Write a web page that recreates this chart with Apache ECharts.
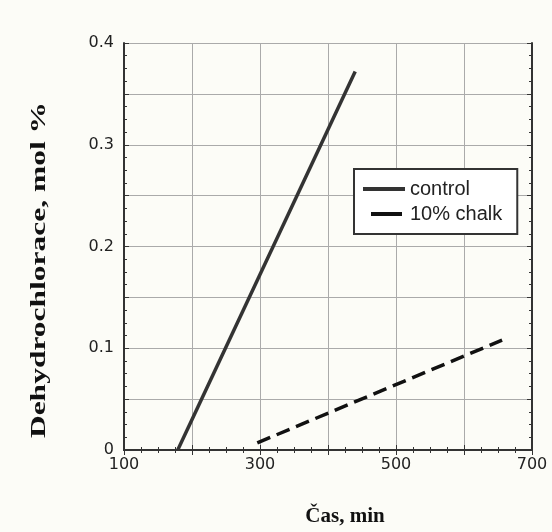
<!DOCTYPE html>
<html>
<head>
<meta charset="utf-8">
<script src="https://cdn.jsdelivr.net/npm/echarts@6/dist/echarts.min.js"></script>
<style>
	html, body { margin: 0; padding: 0; background: #fcfcf7; }
	#chart { width: 552px; height: 532px; }
</style>
</head>
<body>
<div id="chart"></div>
<script>
// data
var seriesNames = ['control', '10% chalk'];
var controlTime = [179, 440];
var controlValue = [0, 0.372];
var chalkTime = [296, 656];
var chalkValue = [0.007, 0.108];
var xTickLabels = [100, 300, 500, 700];
var yTickLabels = [0, 0.1, 0.2, 0.3, 0.4];

function pairs(xs, ys) {
	var out = [];
	for (var i = 0; i < xs.length; i++) {
		out.push([xs[i], ys[i]]);
	}
	return out;
}

function hasValue(list, v) {
	for (var i = 0; i < list.length; i++) {
		if (Math.abs(list[i] - v) < 1e-9) return true;
	}
	return false;
}

var chart = echarts.init(document.getElementById('chart'));

var tickFont = { fontFamily: 'DejaVu Sans, sans-serif', fontSize: 16, color: '#222' };
var frameLine = { show: true, lineStyle: { color: '#333', width: 2 } };
var tickLine = { inside: true, length: 5, lineStyle: { color: '#333' } };
var minorLine = { show: true, splitNumber: 4, length: 3, lineStyle: { color: '#333' } };

var option = {
	backgroundColor: '#fcfcf7',
	animation: false,
	grid: { left: 124, top: 43, right: 20, bottom: 79 },
	legend: {
		data: [
			{ name: seriesNames[0] },
			// one long dash in the sample, as in the scan
			{ name: seriesNames[1], lineStyle: { type: [0, 8, 31, 4] } }
		],
		orient: 'vertical',
		left: 354,
		top: 169,
		padding: [10, 15, 10, 7],
		itemGap: 5,
		itemWidth: 42,
		itemHeight: 14,
		// only the line sample, no marker
		itemStyle: { opacity: 0 },
		lineStyle: { width: 4 },
		backgroundColor: '#ffffff',
		borderColor: '#333',
		borderWidth: 2,
		textStyle: { fontFamily: 'Liberation Sans, Arial, sans-serif', fontSize: 20, color: '#222' }
	},
	// y-axis title, stretched along its length like in the scan
	graphic: [
		{
			type: 'text',
			x: 40,
			y: 270,
			rotation: Math.PI / 2,
			scaleX: 1.5,
			style: {
				text: 'Dehydrochlorace, mol %',
				font: 'bold 21px "Liberation Serif", "Times New Roman", serif',
				fill: '#111',
				textAlign: 'center',
				textVerticalAlign: 'middle'
			}
		}
	],
	xAxis: [
		{
			type: 'value',
			min: 100,
			max: 700,
			interval: 100,
			axisLine: frameLine,
			axisTick: tickLine,
			minorTick: minorLine,
			splitLine: { show: true, lineStyle: { color: '#aaa', width: 1 } },
			axisLabel: Object.assign({
				margin: 7,
				formatter: function (v) { return hasValue(xTickLabels, v) ? String(v) : ''; }
			}, tickFont),
			name: 'Čas, min',
			nameLocation: 'middle',
			nameGap: 56,
			nameTextStyle: { fontFamily: 'Liberation Serif, Times New Roman, serif', fontWeight: 'bold', fontSize: 21, color: '#111', padding: [0, 0, 0, 34] }
		},
		{
			type: 'value',
			position: 'top',
			min: 100,
			max: 700,
			interval: 100,
			axisLine: frameLine,
			axisTick: tickLine,
			minorTick: minorLine,
			splitLine: { show: false },
			axisLabel: { show: false }
		}
	],
	yAxis: [
		{
			type: 'value',
			min: 0,
			max: 0.4,
			interval: 0.05,
			axisLine: frameLine,
			axisTick: tickLine,
			minorTick: minorLine,
			splitLine: { show: true, lineStyle: { color: '#aaa', width: 1 } },
			axisLabel: Object.assign({
				margin: 10,
				padding: [0, 0, 6, 0],
				formatter: function (v) { return hasValue(yTickLabels, v) ? String(Math.round(v * 10) / 10) : ''; }
			}, tickFont)
		},
		{
			type: 'value',
			position: 'right',
			min: 0,
			max: 0.4,
			interval: 0.05,
			axisLine: frameLine,
			axisTick: tickLine,
			minorTick: minorLine,
			splitLine: { show: false },
			axisLabel: { show: false }
		}
	],
	series: [
		{
			name: seriesNames[0],
			type: 'line',
			data: pairs(controlTime, controlValue),
			symbol: 'none',
			lineStyle: { color: '#333', width: 3.5, type: 'solid' },
			itemStyle: { color: '#333' },
			z: 5
		},
		{
			name: seriesNames[1],
			type: 'line',
			data: pairs(chalkTime, chalkValue),
			symbol: 'none',
			lineStyle: { color: '#111', width: 3.5, type: [14, 7] },
			itemStyle: { color: '#111' },
			z: 5
		}
	]
};

chart.setOption(option);
</script>
</body>
</html>
